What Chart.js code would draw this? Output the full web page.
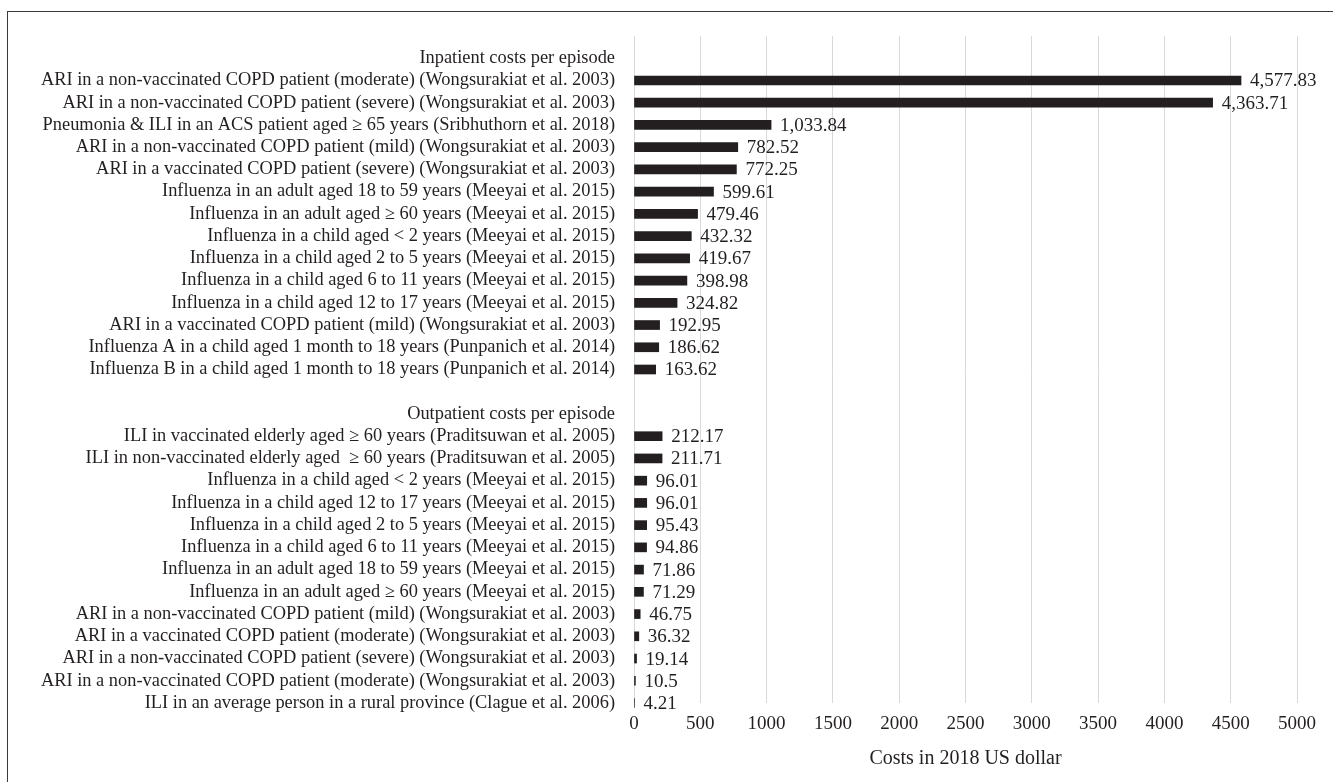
<!DOCTYPE html>
<html>
<head>
<meta charset="utf-8">
<title>Costs per episode of influenza-related illness</title>
<script src="https://cdn.jsdelivr.net/npm/chart.js@4.4.1/dist/chart.umd.min.js"></script>
<style>
  html, body { margin: 0; padding: 0; background: #ffffff; }
  #wrap { position: relative; width: 1333px; height: 782px; overflow: hidden; }
  #frame { position: absolute; left: 7px; top: 11px; width: 1400px; height: 800px;
           border-top: 1.5px solid #3a3a3a; border-left: 1.5px solid #3a3a3a; }
  #chart { position: absolute; left: 0; top: 0; }
</style>
</head>
<body>
<div id="wrap">
  <div id="frame"></div>
  <canvas id="chart" width="1333" height="782"></canvas>
</div>
<script>
// Section headings shown as rows of the category axis
const inpatientHeading = 'Inpatient costs per episode';
const outpatientHeading = 'Outpatient costs per episode';

// Inpatient costs per episode (2018 US dollar)
const inpatientLabels = [
  'ARI in a non-vaccinated COPD patient (moderate) (Wongsurakiat et al. 2003)',
  'ARI in a non-vaccinated COPD patient (severe) (Wongsurakiat et al. 2003)',
  'Pneumonia & ILI in an ACS patient aged \u2265 65 years (Sribhuthorn et al. 2018)',
  'ARI in a non-vaccinated COPD patient (mild) (Wongsurakiat et al. 2003)',
  'ARI in a vaccinated COPD patient (severe) (Wongsurakiat et al. 2003)',
  'Influenza in an adult aged 18 to 59 years (Meeyai et al. 2015)',
  'Influenza in an adult aged \u2265 60 years (Meeyai et al. 2015)',
  'Influenza in a child aged < 2 years (Meeyai et al. 2015)',
  'Influenza in a child aged 2 to 5 years (Meeyai et al. 2015)',
  'Influenza in a child aged 6 to 11 years (Meeyai et al. 2015)',
  'Influenza in a child aged 12 to 17 years (Meeyai et al. 2015)',
  'ARI in a vaccinated COPD patient (mild) (Wongsurakiat et al. 2003)',
  'Influenza A in a child aged 1 month to 18 years (Punpanich et al. 2014)',
  'Influenza B in a child aged 1 month to 18 years (Punpanich et al. 2014)'
];
const inpatientCosts = [4577.83, 4363.71, 1033.84, 782.52, 772.25, 599.61, 479.46,
                        432.32, 419.67, 398.98, 324.82, 192.95, 186.62, 163.62];

// Outpatient costs per episode (2018 US dollar)
const outpatientLabels = [
  'ILI in vaccinated elderly aged \u2265 60 years (Praditsuwan et al. 2005)',
  'ILI in non-vaccinated elderly aged  \u2265 60 years (Praditsuwan et al. 2005)',
  'Influenza in a child aged < 2 years (Meeyai et al. 2015)',
  'Influenza in a child aged 12 to 17 years (Meeyai et al. 2015)',
  'Influenza in a child aged 2 to 5 years (Meeyai et al. 2015)',
  'Influenza in a child aged 6 to 11 years (Meeyai et al. 2015)',
  'Influenza in an adult aged 18 to 59 years (Meeyai et al. 2015)',
  'Influenza in an adult aged \u2265 60 years (Meeyai et al. 2015)',
  'ARI in a non-vaccinated COPD patient (mild) (Wongsurakiat et al. 2003)',
  'ARI in a vaccinated COPD patient (moderate) (Wongsurakiat et al. 2003)',
  'ARI in a non-vaccinated COPD patient (severe) (Wongsurakiat et al. 2003)',
  'ARI in a non-vaccinated COPD patient (moderate) (Wongsurakiat et al. 2003)',
  'ILI in an average person in a rural province (Clague et al. 2006)'
];
const outpatientCosts = [212.17, 211.71, 96.01, 96.01, 95.43, 94.86, 71.86,
                         71.29, 46.75, 36.32, 19.14, 10.5, 4.21];

// Cost axis
const costTicks = [0, 500, 1000, 1500, 2000, 2500, 3000, 3500, 4000, 4500, 5000];
const costAxisTitle = 'Costs in 2018 US dollar';

// Row layout: spacer, heading, items, spacer, heading, items
const rowLabels = ['', inpatientHeading, ...inpatientLabels, '', outpatientHeading, ...outpatientLabels];
const rowValues = [null, null, ...inpatientCosts, null, null, ...outpatientCosts];

const SERIF = '"Liberation Serif", "Times New Roman", serif';
const INK = '#231f20';

const fmtCost = v => v.toLocaleString('en-US', { maximumFractionDigits: 2 });

// Writes each bar's cost just past its end
const valueLabels = {
  id: 'valueLabels',
  afterDatasetsDraw(chart) {
    const ctx = chart.ctx;
    const meta = chart.getDatasetMeta(0);
    const data = chart.data.datasets[0].data;
    ctx.save();
    ctx.font = '19px ' + SERIF;
    ctx.fillStyle = INK;
    ctx.textAlign = 'left';
    ctx.textBaseline = 'middle';
    meta.data.forEach((bar, i) => {
      const v = data[i];
      if (v === null || v === undefined) return;
      ctx.fillText(fmtCost(v), bar.x + 9, bar.y + 1);
    });
    ctx.restore();
  }
};

new Chart(document.getElementById('chart'), {
  type: 'bar',
  data: {
    labels: rowLabels,
    datasets: [{
      data: rowValues,
      backgroundColor: INK,
      borderWidth: 0,
      barThickness: 9,
      clip: false
    }]
  },
  options: {
    indexAxis: 'y',
    responsive: false,
    animation: false,
    devicePixelRatio: 1,
    layout: { padding: { top: 36, right: 36, left: 0, bottom: 0 } },
    plugins: {
      legend: { display: false },
      tooltip: { enabled: false }
    },
    scales: {
      x: {
        type: 'linear',
        position: 'bottom',
        min: costTicks[0],
        max: costTicks[costTicks.length - 1],
        afterBuildTicks: s => { s.ticks = costTicks.map(v => ({ value: v })); },
        ticks: {
          callback: v => String(v),
          font: { family: SERIF, size: 19 },
          color: INK,
          padding: 10,
          maxRotation: 0,
          autoSkip: false
        },
        grid: { color: '#d9d9d9', lineWidth: 1, drawTicks: false },
        border: { display: false },
        title: {
          display: true,
          text: costAxisTitle,
          font: { family: SERIF, size: 20 },
          color: INK,
          padding: { top: 4, bottom: 11 }
        },
        afterFit: s => { s.height = 79; }
      },
      y: {
        type: 'category',
        offset: false,
        grid: { display: false },
        border: { display: false },
        ticks: {
          autoSkip: false,
          font: { family: SERIF, size: 18.4 },
          color: INK,
          padding: 11
        },
        afterFit: s => { s.width = 634; }
      }
    }
  },
  plugins: [valueLabels]
});
</script>
</body>
</html>
